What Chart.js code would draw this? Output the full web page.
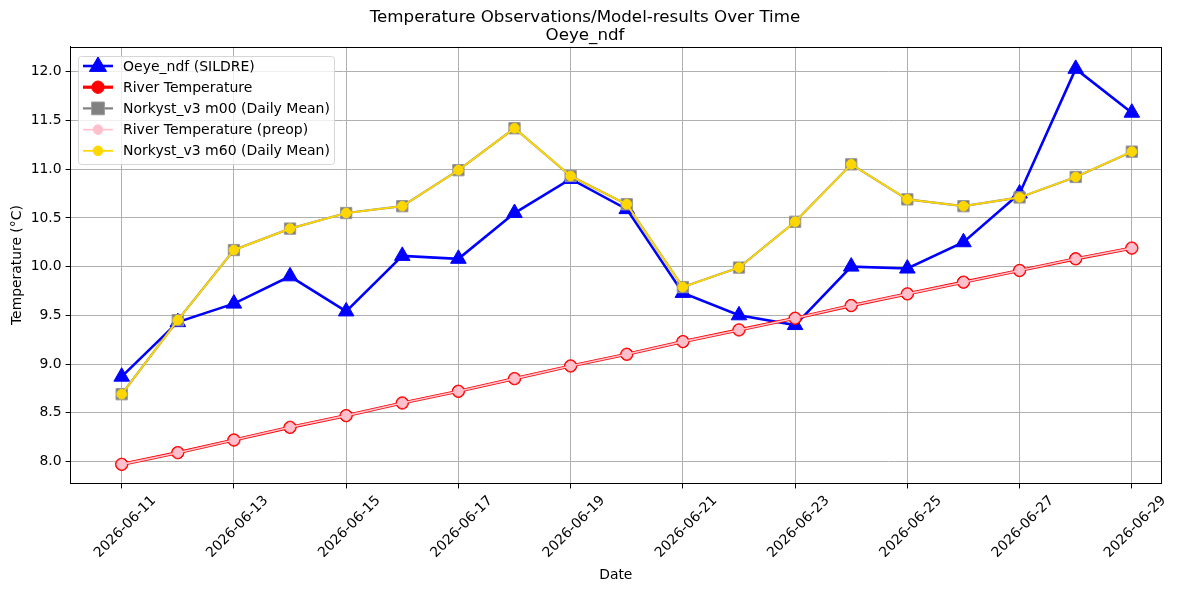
<!DOCTYPE html>
<html>
<head>
<meta charset="utf-8">
<script src="https://cdn.jsdelivr.net/npm/chart.js@4/dist/chart.umd.min.js"></script>
<style>
  html, body { margin: 0; padding: 0; background: #fff; }
  #wrap { width: 1189px; height: 590px; position: relative; }
</style>
</head>
<body>
<div id="wrap"><canvas id="chart"></canvas></div>
<script>
// dates on the x axis
var dates = ['2026-06-11', '2026-06-12', '2026-06-13', '2026-06-14', '2026-06-15',
  '2026-06-16', '2026-06-17', '2026-06-18', '2026-06-19', '2026-06-20',
  '2026-06-21', '2026-06-22', '2026-06-23', '2026-06-24', '2026-06-25',
  '2026-06-26', '2026-06-27', '2026-06-28', '2026-06-29'];

var sildre = [8.87, 9.43, 9.62, 9.90, 9.54, 10.11, 10.08, 10.55, 10.90, 10.59,
  9.73, 9.50, 9.40, 10.00, 9.98, 10.25, 10.75, 12.03, 11.58];
var river = [7.97, 8.09, 8.22, 8.35, 8.47, 8.60, 8.72, 8.85, 8.98, 9.10,
  9.23, 9.35, 9.47, 9.60, 9.72, 9.84, 9.96, 10.08, 10.19];
var riverPreop = [7.97, 8.09, 8.22, 8.35, 8.47, 8.60, 8.72, 8.85, 8.98, 9.10,
  9.23, 9.35, 9.47, 9.60, 9.72, 9.84, 9.96, 10.08, 10.19];
var m00 = [8.69, 9.45, 10.17, 10.39, 10.55, 10.62, 10.99, 11.42, 10.93, 10.64,
  9.79, 9.99, 10.46, 11.05, 10.69, 10.62, 10.71, 10.92, 11.18];
var m60 = [8.69, 9.45, 10.17, 10.39, 10.55, 10.62, 10.99, 11.42, 10.93, 10.64,
  9.79, 9.99, 10.46, 11.05, 10.69, 10.62, 10.71, 10.92, 11.18];

var yTicks = [8.0, 8.5, 9.0, 9.5, 10.0, 10.5, 11.0, 11.5, 12.0];

var FONT = 'DejaVu Sans';

function toPoints(values) {
  return values.map(function (v, i) { return { x: i, y: v }; });
}

function drawMarker(ctx, style, x, y, r) {
  if (style === 'triangle') {
    ctx.moveTo(x, y - r);
    ctx.lineTo(x + r * 0.95, y + r * 0.6);
    ctx.lineTo(x - r * 0.95, y + r * 0.6);
    ctx.closePath();
  } else if (style === 'rect') {
    ctx.rect(x - r * 0.75, y - r * 0.75, r * 1.5, r * 1.5);
  } else {
    ctx.arc(x, y, r, 0, Math.PI * 2);
  }
}

// matplotlib style legend inside the axes + full box around the plot
var boxPlugin = {
  id: 'boxLegend',
  afterDatasetsDraw: function (chart) {
    var ctx = chart.ctx;
    var a = chart.chartArea;
    ctx.save();
    ctx.strokeStyle = '#000';
    ctx.lineWidth = 1;
    ctx.strokeRect(Math.round(a.left) - 0.5, Math.round(a.top) + 0.5,
      Math.round(a.right - a.left) + 1, Math.round(a.bottom - a.top) - 1);

    var lx = Math.round(a.left) + 7, ly = Math.round(a.top) + 9, lw = 256, lh = 108;
    ctx.fillStyle = 'rgba(255,255,255,0.8)';
    ctx.strokeStyle = '#d6d6d6';
    ctx.beginPath();
    if (ctx.roundRect) ctx.roundRect(lx + 0.5, ly + 0.5, lw, lh, 3); else ctx.rect(lx + 0.5, ly + 0.5, lw, lh);
    ctx.fill();
    ctx.stroke();

    ctx.font = '14px ' + FONT;
    ctx.textBaseline = 'middle';
    chart.data.datasets.forEach(function (ds, row) {
      var cy = ly + 10 + row * 21.2;
      var x1 = lx + 5, x2 = lx + 35;
      ctx.strokeStyle = ds.borderColor;
      ctx.lineWidth = ds.borderWidth;
      ctx.beginPath();
      ctx.moveTo(x1, cy);
      ctx.lineTo(x2, cy);
      ctx.stroke();
      ctx.fillStyle = ds.pointBackgroundColor;
      ctx.strokeStyle = ds.pointBorderColor;
      ctx.lineWidth = 1;
      ctx.beginPath();
      drawMarker(ctx, ds.pointStyle, (x1 + x2) / 2, cy, ds.legendRadius);
      ctx.fill();
      ctx.stroke();
      ctx.fillStyle = '#000';
      ctx.fillText(ds.label, lx + 45, cy + 1);
    });
    ctx.restore();
  }
};

var datasets = [
  {
    label: 'Oeye_ndf (SILDRE)',
    data: toPoints(sildre),
    borderColor: '#0000ff',
    backgroundColor: '#0000ff',
    pointBackgroundColor: '#0000ff',
    pointBorderColor: '#0000ff',
    borderWidth: 2.6,
    pointStyle: 'triangle',
    pointRadius: 9,
    legendRadius: 9,
    order: 5
  },
  {
    label: 'River Temperature',
    data: toPoints(river),
    borderColor: '#ff0000',
    backgroundColor: '#ff0000',
    pointBackgroundColor: '#ff0000',
    pointBorderColor: '#ff0000',
    borderWidth: 3.2,
    pointStyle: 'circle',
    pointRadius: 6.2,
    legendRadius: 6.2,
    order: 4
  },
  {
    label: 'Norkyst_v3 m00 (Daily Mean)',
    data: toPoints(m00),
    borderColor: '#808080',
    backgroundColor: '#808080',
    pointBackgroundColor: '#808080',
    pointBorderColor: '#999999',
    borderWidth: 2.2,
    pointStyle: 'rect',
    pointRadius: 8,
    legendRadius: 8.5,
    order: 3
  },
  {
    label: 'River Temperature (preop)',
    data: toPoints(riverPreop),
    borderColor: '#ffc0cb',
    backgroundColor: '#ffc0cb',
    pointBackgroundColor: '#ffc0cb',
    pointBorderColor: '#ffc0cb',
    borderWidth: 1.6,
    pointStyle: 'circle',
    pointRadius: 4.8,
    legendRadius: 4.8,
    order: 2
  },
  {
    label: 'Norkyst_v3 m60 (Daily Mean)',
    data: toPoints(m60),
    borderColor: '#ffd700',
    backgroundColor: '#ffd700',
    pointBackgroundColor: '#ffd700',
    pointBorderColor: '#ffd700',
    borderWidth: 1.8,
    pointStyle: 'circle',
    pointRadius: 4.8,
    legendRadius: 4.8,
    order: 1
  }
];

datasets.forEach(function (d) {
  d.pointBorderWidth = 1;
  d.pointHoverRadius = d.pointRadius;
  d.tension = 0;
});

var chart = new Chart(document.getElementById('chart'), {
  type: 'line',
  data: { datasets: datasets },
  plugins: [boxPlugin],
  options: {
    responsive: true,
    maintainAspectRatio: false,
    animation: false,
    events: [],
    layout: { padding: { left: 9, right: 28, top: 4, bottom: 6 } },
    plugins: {
      legend: { display: false },
      tooltip: { enabled: false },
      title: {
        display: true,
        text: ['Temperature Observations/Model-results Over Time', 'Oeye_ndf'],
        color: '#000',
        font: { family: FONT, size: 16.7, weight: 'normal', lineHeight: 1.1 },
        padding: { top: 4, bottom: 2 }
      }
    },
    scales: {
      x: {
        type: 'linear',
        min: -0.91,
        max: 18.52,
        afterBuildTicks: function (axis) {
          axis.ticks = dates.map(function (d, i) { return { value: i }; })
            .filter(function (t) { return t.value % 2 === 0; });
        },
        ticks: {
          autoSkip: false,
          minRotation: 45,
          maxRotation: 45,
          labelOffset: 32,
          padding: 4,
          color: '#000',
          font: { family: FONT, size: 13.9 },
          callback: function (v) { return dates[v]; }
        },
        grid: { color: '#b0b0b0', lineWidth: 1, tickColor: '#000', tickLength: 5 },
        border: { color: '#000', width: 1 },
        title: {
          display: true, text: 'Date', color: '#000',
          font: { family: FONT, size: 13.9 }, padding: { top: 2, bottom: 0 }
        }
      },
      y: {
        min: 7.774,
        max: 12.257,
        afterBuildTicks: function (axis) {
          axis.ticks = yTicks.map(function (v) { return { value: v }; });
        },
        ticks: {
          color: '#000',
          padding: 4,
          font: { family: FONT, size: 13.9 },
          callback: function (v) { return Number(v).toFixed(1); }
        },
        grid: { color: '#b0b0b0', lineWidth: 1, tickColor: '#000', tickLength: 5 },
        border: { color: '#000', width: 1 },
        title: {
          display: true, text: 'Temperature (°C)', color: '#000',
          font: { family: FONT, size: 13.9 }, padding: { top: 0, bottom: 1 }
        }
      }
    }
  }
});
</script>
</body>
</html>
